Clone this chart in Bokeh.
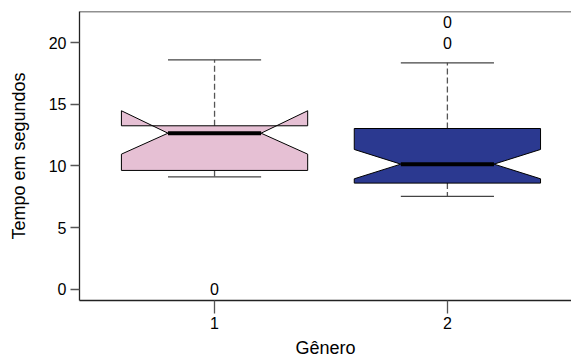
from bokeh.plotting import figure
from bokeh.models import FixedTicker, Span, ColumnDataSource
from bokeh.embed import file_html
from bokeh.resources import INLINE

categories = [1, 2]
q1 = [9.63, 8.60]
medians = [12.65, 10.14]
q3 = [13.25, 13.03]
whisker_lo = [9.11, 7.52]
whisker_hi = [18.60, 18.36]
notch_lo = [10.95, 8.95]
notch_hi = [14.47, 11.33]
outlier_x = [1, 2, 2]
outlier_y = [0.0, 20.0, 21.65]
fill_colors = ["#E6C0D4", "#2B3990"]
y_ticks = [0, 5, 10, 15, 20]
x_ticks = [1, 2]

FONT = "Liberation Sans"
HW = 0.40  # half box width (in data units)

p = figure(width=571, height=363, output_backend="svg", toolbar_location=None,
           x_range=(0.42, 2.533), y_range=(-0.92, 22.52),
           min_border_left=79, min_border_right=0, min_border_top=11, min_border_bottom=63)
p.xgrid.grid_line_color = None
p.ygrid.grid_line_color = None
p.outline_line_color = None
p.background_fill_color = "white"
p.border_fill_color = "white"

for i, c in enumerate(categories):
    xs = [c - HW, c - HW, c - HW / 2, c - HW, c - HW, c + HW, c + HW, c + HW / 2, c + HW, c + HW]
    ys = [q1[i], notch_lo[i], medians[i], notch_hi[i], q3[i], q3[i], notch_hi[i], medians[i], notch_lo[i], q1[i]]
    p.segment(x0=[c, c], y0=[q3[i], q1[i]], x1=[c, c], y1=[whisker_hi[i], whisker_lo[i]],
              line_color="#555555", line_width=1.3, line_dash="6 3")
    p.segment(x0=[c - HW / 2, c - HW / 2], y0=[whisker_hi[i], whisker_lo[i]],
              x1=[c + HW / 2, c + HW / 2], y1=[whisker_hi[i], whisker_lo[i]],
              line_color="#444444", line_width=1.3)
    p.patch(xs, ys, fill_color=fill_colors[i], line_color="black", line_width=1)
    p.segment(x0=[c - HW / 2], y0=[medians[i]], x1=[c + HW / 2], y1=[medians[i]],
              line_color="black", line_width=4)

src = ColumnDataSource(dict(x=outlier_x, y=outlier_y, t=["0"] * len(outlier_x)))
p.text(x="x", y="y", text="t", source=src, text_align="center", text_baseline="middle",
       text_font={"value": FONT}, text_font_size="16px", text_color="black")

top = Span(location=22.52, dimension="width", line_color="#222222", line_width=1.5)
p.add_layout(top)

for ax in (p.xaxis[0], p.yaxis[0]):
    ax.axis_line_color = "#222222"
    ax.axis_line_width = 1.3
    ax.major_tick_line_color = "#555555"
    ax.major_tick_line_width = 1.3
    ax.major_tick_in = 0
    ax.minor_tick_line_color = None
    ax.major_label_text_font = FONT
    ax.major_label_text_font_size = "16px"
    ax.major_label_text_color = "black"
    ax.axis_label_text_font = FONT
    ax.axis_label_text_font_size = "18px"
    ax.axis_label_text_font_style = "normal"
    ax.axis_label_text_color = "black"

p.xaxis.major_tick_out = 13
p.yaxis.major_tick_out = 9
p.xaxis.ticker = FixedTicker(ticks=x_ticks)
p.yaxis.ticker = FixedTicker(ticks=y_ticks)
p.xaxis.axis_label = "Gênero"
p.yaxis.axis_label = "Tempo em segundos"
p.xaxis.major_label_standoff = 3
p.xaxis.axis_label_standoff = 6
p.yaxis.major_label_standoff = 4
p.yaxis.axis_label_standoff = 17

open("out.html", "w").write(file_html(p, INLINE))
